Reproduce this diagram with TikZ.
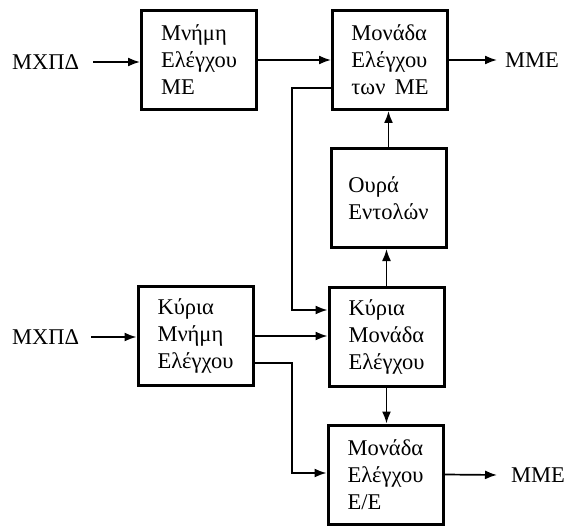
\documentclass[tikz,border=0pt]{standalone}
\usepackage{fontspec}
\setmainfont{Liberation Serif}
\usetikzlibrary{arrows.meta}
\begin{document}
\begin{tikzpicture}[x=1pt,y=-1pt,
  blk/.style={draw,line width=3pt,minimum width=115pt,minimum height=99pt,inner sep=0pt,align=left,
    font=\fontsize{22.5}{27}\selectfont},
  lbl/.style={inner sep=0pt,font=\fontsize{22.5}{27}\selectfont},
  arr/.style={line width=1.7pt,-{Latex[length=12pt,width=9pt]}}]
\useasboundingbox (0,0) rectangle (571,527);
\node[blk] (b1) at (199,60) {Μνήμη\\Ελέγχου\\ΜΕ};
\node[blk] (b2) at (390,60) {Μονάδα\\Ελέγχου\\των\, ΜΕ};
\node[blk] (oura) at (388.5,198) {Ουρά\\Εντολών};
\node[blk] (km) at (195.5,336) {Κύρια\\Μνήμη\\Ελέγχου};
\node[blk] (kmon) at (386.5,336.5) {Κύρια\\Μονάδα\\Ελέγχου};
\node[blk] (ee) at (385.5,474.5) {Μονάδα\\Ελέγχου\\Ε/Ε};
\node[lbl,anchor=west] (mx1) at (12,62) {ΜΧΠΔ};
\node[lbl,anchor=west] (mx2) at (12,337) {ΜΧΠΔ};
\node[lbl,anchor=west] (mme1) at (505,60) {ΜΜΕ};
\node[lbl,anchor=west] (mme2) at (511,475) {ΜΜΕ};
\coordinate (fb1) at (292,88);
\coordinate (fb2) at (292,310);
\coordinate (c1) at (292,363);
\coordinate (c2) at (292,473);
\draw[arr] ([xshift=14pt]mx1.east) -- (mx1.east -| b1.west);
\draw[arr] (b1.east) -- (b2.west);
\draw[arr] (b2.east) -- ([xshift=-8pt]mme1.west);
\draw[arr] (oura.north) -- (oura.north |- b2.south);
\draw[arr] (kmon.north) -- (kmon.north |- oura.south);
\draw[arr] (fb1 -| b2.west) -- (fb1) -- (fb2) -- (fb2 -| kmon.west);
\draw[arr] ([xshift=12pt]mx2.east) -- (mx2.east -| km.west);
\draw[arr] (km.east) -- (km.east -| kmon.west);
\draw[arr] (c1 -| km.east) -- (c1) -- (c2) -- (c2 -| ee.west);
\draw[arr] (kmon.south) -- (kmon.south |- ee.north);
\draw[arr] (ee.east) -- ([xshift=-14pt]mme2.west);
\end{tikzpicture}
\end{document}
